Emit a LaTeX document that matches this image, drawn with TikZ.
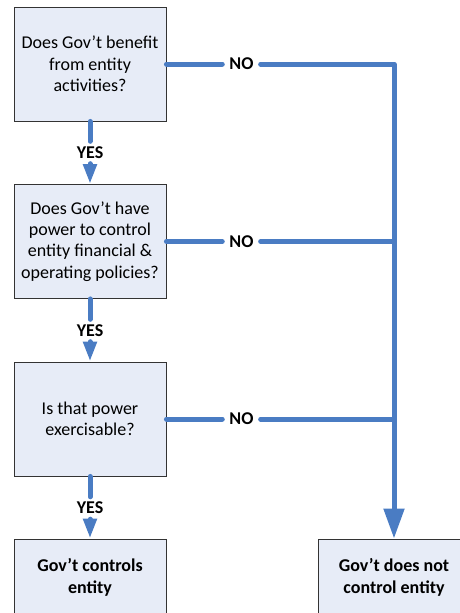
\documentclass[tikz,border=0pt]{standalone}
\usepackage{fontspec}
\setmainfont{Carlito}
\usetikzlibrary{arrows.meta}
\definecolor{flowblue}{HTML}{4A7CC3}
\definecolor{boxfill}{HTML}{E7ECF7}
\tikzset{
  qbox/.style={draw=black!80, fill=boxfill, line width=0.9pt, minimum width=152pt,
    minimum height=114pt, align=center, font=\fontsize{18}{21.3}\selectfont},
  endbox/.style={qbox, minimum height=77pt, font=\bfseries\fontsize{18}{21.3}\selectfont},
  flow/.style={draw=flowblue, line width=5pt, line cap=round},
  lbl/.style={font=\bfseries\fontsize{18}{21}\selectfont, inner sep=0pt}
}
\begin{document}
\begin{tikzpicture}[x=1pt, y=-1pt]
  \useasboundingbox (0,0) rectangle (459,613);
  % question boxes
  \node[qbox] (q1) at (90,64) {Does Gov’t benefit\\from entity\\activities?};
  \node[qbox] (q2) at (90,241.5) {Does Gov’t have\\power to control\\entity financial \&\\operating policies?};
  \node[qbox] (q3) at (90,419) {Is that power\\exercisable?};
  % outcomes
  \node[endbox] (yes) at (90,577.5) {Gov’t controls\\entity};
  \node[endbox] (no) at (394,577.5) {Gov’t does not\\control entity};
  % yes branch
  \foreach \i/\j/\y in {1/q2/152.5, 2/q3/330.5, 3/yes/508}{
    \node[lbl, minimum height=22pt] (y\i) at (90,\y) {YES};
    \draw[flow] (q\i.south) -- (y\i.north);
    \draw[flow, -{Triangle[width=13pt,length=20pt]}] (y\i.south) -- (\j.north);
  }
  % no branch
  \foreach \i in {1,2,3}{
    \path (q\i.east) ++(75,0) node[lbl, minimum width=38pt] (n\i) {NO};
    \draw[flow] (q\i.east) -- (n\i.west);
  }
  \coordinate (turn) at (n1 -| no.north);
  \draw[flow, line join=round, -{Triangle[width=20pt,length=30pt]}] (n1.east) -- (turn) -- (no.north);
  \draw[flow] (n2.east) -- (n2 -| turn);
  \draw[flow] (n3.east) -- (n3 -| turn);
\end{tikzpicture}
\end{document}
